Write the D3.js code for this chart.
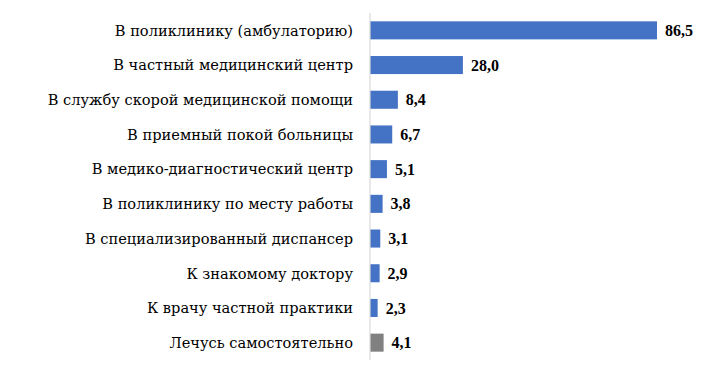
<!DOCTYPE html>
<html><head><meta charset="utf-8">
<script src="https://cdn.jsdelivr.net/npm/d3@7"></script>
<style>body{margin:0;background:#fff;}
.lab{font-family:"DejaVu Serif",serif;}
.val{font-family:"Liberation Serif","Times New Roman",serif;}
</style>
</head><body>
<svg id="c" width="720" height="365"></svg>
<script>
const categories = [
  "В поликлинику (амбулаторию)",
  "В частный медицинский центр",
  "В службу скорой медицинской помощи",
  "В приемный покой больницы",
  "В медико-диагностический центр",
  "В поликлинику по месту работы",
  "В специализированный диспансер",
  "К знакомому доктору",
  "К врачу частной практики",
  "Лечусь самостоятельно"
];
const values = [86.5, 28.0, 8.4, 6.7, 5.1, 3.8, 3.1, 2.9, 2.3, 4.1];
const colors = ["#4472C4","#4472C4","#4472C4","#4472C4","#4472C4","#4472C4","#4472C4","#4472C4","#4472C4","#808080"];

const svg = d3.select("#c");
const x0 = 370;
const x = d3.scaleLinear().domain([0, 86.5]).range([x0, 657]);
const y = d3.scaleBand().domain(categories).range([13, 360]).paddingInner(0.48).paddingOuter(0.24);

svg.selectAll("rect.bar").data(categories).join("rect")
  .attr("class","bar")
  .attr("x", x(0)).attr("y", d => y(d))
  .attr("width", (d,i) => x(values[i]) - x(0))
  .attr("height", y.bandwidth())
  .attr("fill", (d,i) => colors[i]);

svg.append("line").attr("x1", x0).attr("x2", x0).attr("y1", 13).attr("y2", 360)
  .attr("stroke", "#d9d9d9").attr("stroke-width", 1.2);

svg.selectAll("text.lab").data(categories).join("text")
  .attr("class","lab")
  .attr("x", 353).attr("y", d => y(d) + y.bandwidth()/2)
  .attr("dy", "0.36em").attr("text-anchor", "end")
  .attr("font-size", 14.6).attr("fill", "#000")
  .text(d => d);

svg.selectAll("text.val").data(categories).join("text")
  .attr("class","val")
  .attr("x", (d,i) => x(values[i]) + 8).attr("y", d => y(d) + y.bandwidth()/2)
  .attr("dy", "0.35em")
  .attr("font-size", 16).attr("font-weight", "bold").attr("fill", "#000")
  .text((d,i) => values[i].toFixed(1).replace(".", ","));
</script>
</body></html>
